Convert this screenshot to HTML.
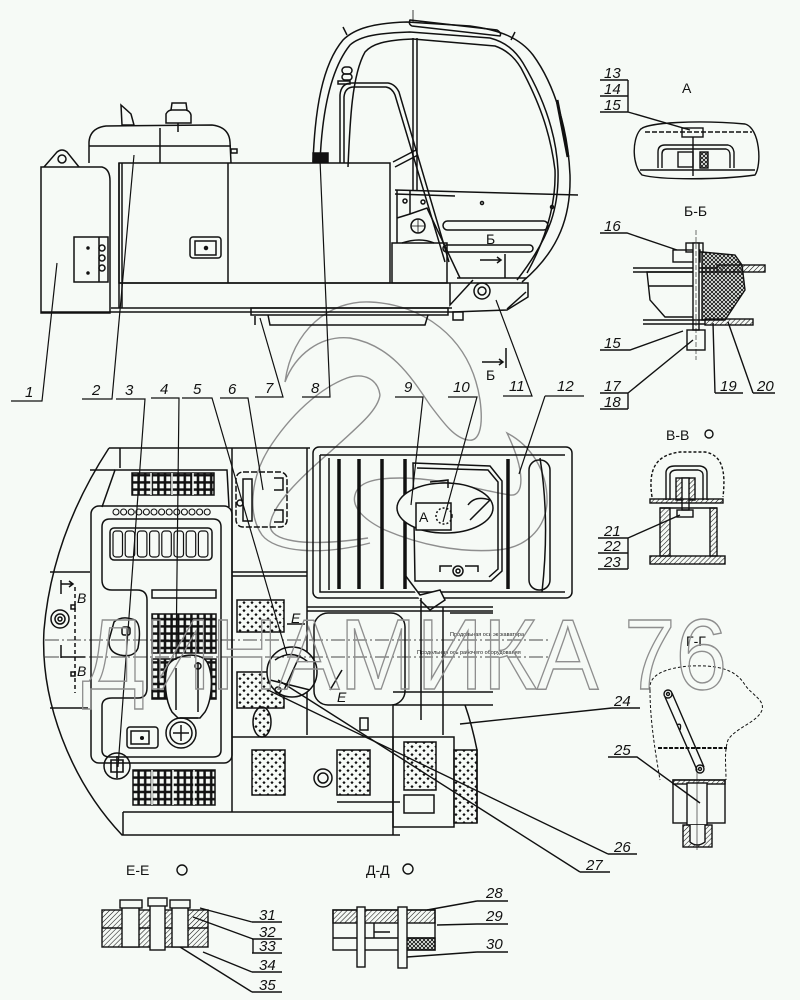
<!DOCTYPE html>
<html><head><meta charset="utf-8">
<style>
html,body{margin:0;padding:0;background:#f6faf6;}
svg{display:block;}
.l{font-family:"Liberation Sans",sans-serif;font-size:15px;font-style:italic;fill:#111;stroke:none;}
.t{font-family:"Liberation Sans",sans-serif;font-size:14px;fill:#111;stroke:none;}
.s{font-family:"Liberation Sans",sans-serif;font-size:5.5px;fill:#222;stroke:none;}
</style></head><body>
<svg width="800" height="1000" viewBox="0 0 800 1000" xmlns="http://www.w3.org/2000/svg">
<defs>
<pattern id="g" width="6.6" height="7.2" patternUnits="userSpaceOnUse"><rect x="0.6" y="0.6" width="5.4" height="6" fill="none" stroke="#111" stroke-width="1.3"/></pattern>
<pattern id="d" width="8" height="8" patternUnits="userSpaceOnUse"><path d="M4,1 L5.6,2.6 L4,4.2 L2.4,2.6Z M0,5 L1.6,6.6 L0,8.2Z M8,5 L6.4,6.6 L8,8.2Z" fill="#111"/></pattern>
<pattern id="h" width="3.5" height="3.5" patternUnits="userSpaceOnUse" patternTransform="rotate(45)"><line x1="0" y1="0" x2="0" y2="3.5" stroke="#111" stroke-width="1.1"/></pattern>
<pattern id="x" width="4" height="4" patternUnits="userSpaceOnUse"><path d="M0,0 L4,4 M4,0 L0,4" stroke="#111" stroke-width="0.9"/></pattern>
</defs>
<rect width="800" height="1000" fill="#f6faf6"/>

<!-- watermark logo -->
<g fill="none" stroke="#8e8e8e" stroke-width="1.4">
<path d="M285,382 C292,330 330,300 370,302 C420,304 470,335 480,400 C484,430 478,442 468,440 C455,438 445,425 430,405 C410,375 390,345 350,338 C320,335 295,355 285,382 Z"/>
<path d="M380,395 C378,380 365,372 347,378 C320,388 290,415 268,450 C250,480 248,515 262,535 C275,552 320,556 370,543"/>
<path d="M380,395 C378,410 360,425 330,452 C300,478 272,505 270,525 C270,540 300,548 368,538"/>
<path d="M507,433 C530,445 548,470 547,503 C545,530 525,548 497,550 C460,553 420,545 385,530 C360,518 352,505 355,495 C358,482 375,478 400,478 C440,478 480,490 510,495 C525,497 525,470 507,433 Z"/>
</g>

<!-- ============ TOP SIDE VIEW ============ -->
<g fill="none" stroke="#111" stroke-width="1.5">
<!-- box 1 -->
<path d="M41,167 L102,167 Q110,169 110,181 L110,313 L41,313 Z"/>
<path d="M44,167 L57,152 Q62,148 67,152 L79,167"/>
<circle cx="62" cy="159" r="4"/>
<line x1="119" y1="163" x2="119" y2="308"/>
<line x1="122" y1="163" x2="122" y2="308"/>
<rect x="74" y="237" width="34" height="45"/>
<line x1="99" y1="237" x2="99" y2="282"/>
<circle cx="102" cy="248" r="3"/><circle cx="102" cy="258" r="3"/><circle cx="102" cy="268" r="3"/>
<circle cx="88" cy="248" r="1" fill="#111"/><circle cx="88" cy="273" r="1" fill="#111"/>
<!-- hood -->
<path d="M89,163 L89,142 Q90,128 106,126 L212,125 Q229,127 230,142 L231,163"/>
<line x1="89" y1="146" x2="231" y2="146"/>
<line x1="160" y1="128" x2="160" y2="163"/>
<path d="M121,105 L131,114 L134,125 L122,125 Z"/>
<path d="M166,123 L166,114 Q168,110 172,110 L186,110 Q190,111 191,115 L191,123 Z"/>
<path d="M171,110 L172,103 L186,103 L187,110"/>
<line x1="178" y1="123" x2="178" y2="132"/>
<rect x="231" y="149" width="6" height="4"/>
<!-- main body -->
<rect x="119" y="163" width="271" height="120"/>
<line x1="228" y1="163" x2="228" y2="283"/>
<rect x="190" y="237" width="31" height="21" rx="3"/>
<rect x="195" y="241" width="21" height="14"/>
<circle cx="206" cy="248" r="1.5" fill="#111"/>
<rect x="313" y="153" width="15" height="9" fill="#111"/>
<!-- platform -->
<path d="M119,283 L528,283 L528,297 L507,310 L452,312"/>
<line x1="111" y1="308" x2="452" y2="308"/>
<line x1="41" y1="312" x2="452" y2="312"/>
<path d="M450,283 L450,305 L473,280"/>
<path d="M507,309 L526,292"/>
<circle cx="482" cy="291" r="8"/><circle cx="482" cy="291" r="4"/>
<rect x="251" y="308" width="197" height="7"/>
<path d="M268,315 L270,325 L425,325 L428,315"/>
<line x1="255" y1="316" x2="255" y2="325"/>
<rect x="453" y="312" width="10" height="8"/>
<!-- cab -->
<path d="M313,162 C315,110 322,65 343,40 C355,28 375,23 407,22 L470,26 C500,30 520,38 533,55 C555,85 568,130 570,175 C571,215 560,250 522,282"/>
<path d="M320,162 C322,115 330,70 350,45 C360,36 378,33 410,32 L490,38 C505,42 515,50 523,63 C542,95 556,130 558,170 C559,205 552,235 517,280"/>
<path d="M348,167 C350,120 352,75 365,52 C372,44 385,40 413,39 L495,46 C507,50 515,58 521,68 C538,100 550,130 555,170 C556,200 548,235 527,273"/>
<path d="M410,20 L497,30 Q502,33 500,36 L412,26 Q408,24 410,20 Z"/>
<line x1="343" y1="27" x2="347" y2="35"/><line x1="515" y1="32" x2="511" y2="40"/>
<line x1="413" y1="38" x2="413" y2="190"/><line x1="417" y1="38" x2="417" y2="190"/>
<line x1="413" y1="10" x2="413" y2="22" stroke-width="0.8"/>
<path d="M557,100 L568,157" stroke-width="3"/>
<rect x="342" y="67" width="10" height="7" rx="3.5"/><rect x="342" y="74" width="10" height="6" rx="3"/>
<rect x="338" y="81" width="12" height="3"/>
<path d="M340,163 L340,95 Q341,83 352,83 L388,83 Q395,84 399,92 L449,262"/>
<path d="M344,163 L344,97 Q345,87 354,87 L386,87 Q392,88 395,95 L445,262"/>
<path d="M393,162 L416,150 M395,167 L418,155"/>
<line x1="395" y1="190" x2="578" y2="195"/>
<line x1="395" y1="194" x2="455" y2="196"/>
<rect x="443" y="221" width="105" height="9" rx="4.5"/>
<rect x="443" y="245" width="90" height="7" rx="3.5"/>
<rect x="392" y="243" width="55" height="40"/>
<path d="M402,243 Q420,237 434,243"/>
<path d="M397,190 L397,243 M397,218 L410,214 L427,208 L460,278"/>
<line x1="410" y1="190" x2="410" y2="214"/>
<circle cx="418" cy="226" r="7"/><path d="M418,219 L418,233 M411,226 L425,226" stroke-width="0.8"/>
<circle cx="405" cy="201" r="2"/><circle cx="423" cy="202" r="2"/><circle cx="482" cy="203" r="1.5"/><circle cx="552" cy="207" r="1.5"/>
<line x1="457" y1="278" x2="527" y2="278"/>
<!-- section Б marks -->
<path d="M480,260 L501,260 M497,257 L501,260 L497,263"/>
<line x1="505" y1="254" x2="505" y2="278"/>
<path d="M482,362 L503,362 M499,359 L503,362 L499,365"/>
<line x1="506" y1="348" x2="506" y2="368"/>
</g>
<text class="t" x="486" y="244">Б</text>
<text class="t" x="486" y="380">Б</text>

<!-- ============ BOTTOM PLAN VIEW ============ -->
<g fill="none" stroke="#111" stroke-width="1.5">
<path d="M109,448 L310,448"/>
<path d="M109,448 C75,500 50,560 44,630 C40,700 70,780 122,835 L400,835"/>
<path d="M90,470 L115,470 M120,448 L120,468"/>
<path d="M102,507 L115,470 L227,470 L229,507"/>
<rect x="132" y="473" width="82" height="22" fill="url(#g)"/>
<line x1="151" y1="473" x2="151" y2="495" stroke="#f6faf6" stroke-width="1.5"/>
<line x1="172" y1="473" x2="172" y2="495" stroke="#f6faf6" stroke-width="1.5"/>
<line x1="193" y1="473" x2="193" y2="495" stroke="#f6faf6" stroke-width="1.5"/>
<!-- engine plate -->
<rect x="91" y="506" width="141" height="257" rx="8"/>
<g stroke-width="1.1">
<circle cx="116" cy="512" r="3"/><circle cx="123.6" cy="512" r="3"/><circle cx="131.2" cy="512" r="3"/><circle cx="138.8" cy="512" r="3"/><circle cx="146.4" cy="512" r="3"/><circle cx="154" cy="512" r="3"/><circle cx="161.6" cy="512" r="3"/><circle cx="169.2" cy="512" r="3"/><circle cx="176.8" cy="512" r="3"/><circle cx="184.4" cy="512" r="3"/><circle cx="192" cy="512" r="3"/><circle cx="199.6" cy="512" r="3"/><circle cx="207.2" cy="512" r="3"/>
</g>
<path d="M110,519 L213,519 Q221,519 221,527 L221,750 Q221,757 213,757 L110,757 Q102,757 102,750 L102,706 Q102,698 112,698 L138,698 Q147,698 147,688 L147,600 Q147,590 137,590 L112,590 Q102,590 102,580 L102,527 Q102,519 110,519 Z"/>
<rect x="110" y="528" width="102" height="32" rx="4"/>
<g stroke-width="1.2">
<rect x="113" y="531" width="9.5" height="26" rx="3"/><rect x="125.2" y="531" width="9.5" height="26" rx="3"/><rect x="137.4" y="531" width="9.5" height="26" rx="3"/><rect x="149.6" y="531" width="9.5" height="26" rx="3"/><rect x="161.8" y="531" width="9.5" height="26" rx="3"/><rect x="174" y="531" width="9.5" height="26" rx="3"/><rect x="186.2" y="531" width="9.5" height="26" rx="3"/><rect x="198.4" y="531" width="9.5" height="26" rx="3"/>
</g>
<rect x="152" y="590" width="64" height="8"/>
<rect x="152" y="614" width="64" height="39" fill="url(#g)"/>
<rect x="152" y="659" width="64" height="40" fill="url(#g)"/>
<path d="M167,668 C170,655 200,650 207,662 C214,675 212,700 205,712 L200,718 L178,718 L172,712 C165,700 164,680 167,668 Z" fill="#f6faf6"/>
<path d="M176,710 L176,668 M198,662 L198,712 M180,718 L198,718"/>
<circle cx="198" cy="666" r="3"/>
<circle cx="181" cy="733" r="15"/><circle cx="181" cy="733" r="11"/>
<path d="M181,725 L181,741 M173,733 L189,733"/>
<rect x="127" y="727" width="31" height="21" rx="3"/>
<rect x="131" y="731" width="18" height="13"/>
<circle cx="142" cy="738" r="1.3" fill="#111"/>
<circle cx="117" cy="766" r="13"/>
<path d="M111,760 L123,760 L123,772 L111,772 Z M117,756 L117,778" stroke-width="1.6"/>
<rect x="133" y="770" width="82" height="35" fill="url(#g)"/>
<line x1="152" y1="770" x2="152" y2="805" stroke="#f6faf6" stroke-width="1.5"/>
<line x1="173" y1="770" x2="173" y2="805" stroke="#f6faf6" stroke-width="1.5"/>
<line x1="194" y1="770" x2="194" y2="805" stroke="#f6faf6" stroke-width="1.5"/>
<path d="M114,622 Q122,615 135,620 Q142,625 138,648 Q134,658 120,655 Q108,652 109,640 Z"/>
<rect x="122" y="627" width="8" height="8" rx="2"/>
<line x1="123" y1="812" x2="393" y2="812"/>
<line x1="123" y1="812" x2="123" y2="835"/>
<!-- left B marks -->
<path d="M50,572 L90,572 M50,708 L88,708"/>
<path d="M61,580 L61,594 M61,584 L73,584 M69,581 L73,584 L69,587"/>
<path d="M61,645 L61,658 M61,657 L85,657"/>
<circle cx="60" cy="619" r="9"/><circle cx="60" cy="619" r="5"/><circle cx="60" cy="619" r="2"/>
<line x1="75" y1="587" x2="75" y2="693" stroke-dasharray="4,3"/>
<rect x="71" y="605" width="4" height="4"/><rect x="71" y="672" width="4" height="4"/>
<!-- middle column -->
<line x1="232" y1="448" x2="232" y2="812"/>
<line x1="307" y1="448" x2="307" y2="735"/>
<rect x="236" y="472" width="51" height="55" rx="7" stroke-dasharray="6,2"/>
<rect x="243" y="479" width="9" height="42"/>
<path d="M274,478 L283,478 L283,490 L274,490 M274,510 L283,510 L283,522 L274,522"/>
<circle cx="240" cy="503" r="3"/>
<line x1="232" y1="572" x2="307" y2="572"/>
<line x1="232" y1="576" x2="307" y2="576"/>
<rect x="237" y="600" width="47" height="32" fill="url(#d)"/>
<rect x="237" y="672" width="47" height="36" fill="url(#d)"/>
<ellipse cx="262" cy="722" rx="9" ry="15" fill="url(#d)"/>
<line x1="232" y1="737" x2="393" y2="737"/>
<!-- swing -->
<circle cx="292" cy="672" r="25" fill="#f6faf6"/>
<path d="M275,660 Q292,648 308,662 M284,690 L300,655 M270,680 L310,690"/>
<circle cx="278" cy="690" r="3"/>
<path d="M287,624 L305,624 M330,690 L342,670"/>
<!-- upper right block -->
<rect x="313" y="447" width="259" height="151" rx="6"/>
<path d="M320,455 L565,455 M320,455 L320,592 L565,592"/>
<line x1="329" y1="458" x2="329" y2="590"/>
<g stroke-width="3.5">
<line x1="339" y1="459" x2="339" y2="589"/><line x1="359" y1="459" x2="359" y2="589"/><line x1="382" y1="459" x2="382" y2="589"/><line x1="405" y1="459" x2="405" y2="589"/><line x1="508" y1="459" x2="508" y2="589"/>
</g>
<path d="M413,463 L490,466 L502,481 L502,571 L491,581 L415,581 Z"/>
<path d="M417,468 L488,470 L498,482 L498,569 L489,577"/>
<ellipse cx="445" cy="508" rx="48" ry="25" fill="#f6faf6"/>
<path d="M430,482 L448,480 L448,488 M468,505 Q475,495 490,500 M470,520 L490,500"/>
<rect x="416" y="503" width="35" height="27" fill="#f6faf6"/>
<circle cx="444" cy="516" r="8" stroke-dasharray="2,2"/>
<rect x="529" y="460" width="21" height="130" rx="10"/>
<path d="M540,458 Q550,520 542,592"/>
<circle cx="458" cy="571" r="5"/><circle cx="458" cy="571" r="2"/>
<path d="M440,572 L440,566 L452,566 M465,566 L478,566 L478,572"/>
<path d="M405,575 L420,595 L440,590 L445,600 L430,610 L420,600" fill="#f6faf6"/>
<!-- below cab -->
<line x1="307" y1="607" x2="493" y2="607"/>
<line x1="307" y1="611" x2="493" y2="611"/>
<rect x="314" y="613" width="91" height="92" rx="14"/>
<line x1="421" y1="598" x2="421" y2="720"/>
<line x1="443" y1="607" x2="443" y2="735"/>
<line x1="450" y1="613" x2="493" y2="613"/>
<line x1="393" y1="692" x2="493" y2="692"/>
<line x1="393" y1="705" x2="493" y2="705"/>
<path d="M465,705 Q472,725 477,750 L477,823"/>
<rect x="393" y="737" width="61" height="90"/>
<rect x="404" y="742" width="32" height="48" fill="url(#d)"/>
<rect x="404" y="795" width="30" height="18"/>
<rect x="454" y="750" width="23" height="73" fill="url(#d)"/>
<line x1="393" y1="705" x2="393" y2="835"/>
<rect x="252" y="750" width="33" height="45" fill="url(#d)"/>
<rect x="337" y="750" width="33" height="45" fill="url(#d)"/>
<circle cx="323" cy="778" r="9"/><circle cx="323" cy="778" r="5"/>
<path d="M337,802 L400,802"/>
<rect x="360" y="718" width="8" height="12"/>
<!-- centerlines -->
<g stroke-width="0.8" stroke-dasharray="14,3,2,3">
<line x1="45" y1="640" x2="548" y2="640"/>
<line x1="45" y1="657" x2="548" y2="657"/>
</g>
</g>
<text class="s" x="450" y="636">Продольная ось экскаватора</text>
<text class="s" x="417" y="654">Продольная ось рабочего оборудования</text>
<text class="t" x="419" y="522">А</text>
<text class="t" x="77" y="603" font-style="italic">В</text>
<text class="t" x="77" y="676" font-style="italic">В</text>
<text class="t" x="291" y="623" font-style="italic">Е</text>
<text class="t" x="337" y="702" font-style="italic">Е</text>

<!-- ============ RIGHT DETAILS ============ -->
<g fill="none" stroke="#111" stroke-width="1.4">
<!-- A -->
<path d="M600,80 L628,80 M600,96 L628,96 M600,112 L628,112 M628,80 L628,112 L690,130"/>
<path d="M640,130 C645,122 700,120 745,124 C760,128 762,165 755,175 C720,180 660,180 642,175 C632,165 632,140 640,130 Z"/>
<line x1="645" y1="132" x2="752" y2="132" stroke-dasharray="5,2"/>
<line x1="640" y1="170" x2="755" y2="170"/>
<path d="M658,168 L658,152 Q658,145 665,145 L728,145 Q733,146 734,152 L734,168"/>
<path d="M662,168 L662,154 Q662,149 667,149 L726,149 Q730,150 730,155 L730,168"/>
<rect x="682" y="128" width="21" height="9"/>
<line x1="693" y1="137" x2="693" y2="176"/>
<rect x="678" y="152" width="15" height="15"/>
<rect x="700" y="152" width="8" height="16" fill="url(#x)"/>
<!-- Б-Б -->
<path d="M600,233 L627,233 L677,250"/>
<line x1="633" y1="268" x2="717" y2="268"/><line x1="633" y1="272" x2="717" y2="272"/>
<rect x="717" y="265" width="48" height="7" fill="url(#h)"/>
<path d="M647,272 L695,272 L695,317 L665,317 L650,300 Z"/>
<line x1="648" y1="286" x2="695" y2="286"/>
<rect x="673" y="250" width="27" height="12"/>
<rect x="686" y="243" width="17" height="9"/>
<rect x="693" y="243" width="6" height="87" fill="#f6faf6"/>
<path d="M702,252 L735,255 L742,265 L745,290 L735,305 L725,320 L702,320 Z" fill="url(#x)"/>
<line x1="643" y1="320" x2="705" y2="320"/><line x1="643" y1="324" x2="705" y2="324"/>
<rect x="705" y="319" width="48" height="6" fill="url(#h)"/>
<rect x="687" y="330" width="18" height="20"/>
<line x1="696" y1="230" x2="696" y2="360" stroke-width="0.6" stroke-dasharray="5,2"/>
<path d="M600,350 L630,350 L683,331"/>
<path d="M600,393 L628,393 M600,409 L628,409 M628,393 L628,409 M628,393 L693,340"/>
<path d="M715,393 L743,393 M715,393 L713,323"/>
<path d="M753,393 L775,393 M753,393 L728,322"/>
<!-- В-В -->
<circle cx="709" cy="434" r="4"/>
<path d="M652,497 C648,470 655,455 680,452 L705,452 C722,455 726,470 723,497" stroke-dasharray="3,2"/>
<path d="M666,500 L666,472 Q667,466 675,466 L700,466 Q707,467 707,473 L707,500"/>
<path d="M670,500 L670,474 Q671,470 677,470 L698,470 Q703,471 703,475 L703,500"/>
<rect x="676" y="478" width="19" height="22" fill="url(#h)"/>
<rect x="682" y="478" width="7" height="32" fill="#f6faf6"/>
<rect x="650" y="499" width="73" height="4" fill="url(#h)"/>
<rect x="660" y="508" width="10" height="48" fill="url(#h)"/>
<rect x="710" y="508" width="7" height="48" fill="url(#h)"/>
<line x1="660" y1="508" x2="717" y2="508"/>
<rect x="677" y="510" width="16" height="7"/>
<rect x="650" y="556" width="75" height="8" fill="url(#h)"/>
<path d="M598,538 L628,538 M598,553 L628,553 M598,569 L628,569 M628,538 L628,569 M628,538 L680,515"/>
<!-- Г-Г -->
<path d="M650,690 C648,675 665,668 690,666 C715,665 735,668 745,685 C752,695 765,700 762,710 C758,722 735,728 728,740 C724,752 726,765 726,780" stroke-dasharray="3,2" stroke-width="1"/>
<path d="M650,690 C650,720 655,750 660,780" stroke-dasharray="3,2" stroke-width="1"/>
<line x1="658" y1="748" x2="727" y2="748" stroke-dasharray="4,1.5" stroke-width="2"/>
<path d="M665,697 L697,770 M672,693 L704,767"/>
<circle cx="668" cy="694" r="4"/><circle cx="668" cy="694" r="1.5"/>
<circle cx="700" cy="769" r="4"/><circle cx="700" cy="769" r="1.5"/>
<path d="M677,725 Q682,722 680,730"/>
<rect x="673" y="780" width="52" height="43"/>
<rect x="673" y="780" width="52" height="4" fill="url(#h)"/>
<rect x="687" y="783" width="20" height="42" fill="#f6faf6"/>
<rect x="683" y="825" width="29" height="22" fill="url(#h)"/>
<path d="M690,825 L690,842 Q697,848 705,842 L705,825" fill="#f6faf6"/>
<line x1="697" y1="770" x2="697" y2="850" stroke-width="0.6"/>
<path d="M608,757 L637,757 L700,803"/>
<path d="M612,708 L640,708 M612,708 L460,724"/>
<path d="M608,854 L637,854 M608,854 L268,690"/>
<path d="M580,872 L610,872 M580,872 L278,680"/>
<!-- E-E -->
<circle cx="182" cy="870" r="5"/>
<rect x="102" y="910" width="106" height="37" fill="url(#h)"/>
<line x1="102" y1="928" x2="208" y2="928"/>
<rect x="122" y="906" width="17" height="41" fill="#f6faf6"/>
<rect x="120" y="900" width="22" height="8" fill="#f6faf6"/>
<rect x="150" y="905" width="15" height="45" fill="#f6faf6"/>
<rect x="148" y="898" width="19" height="8" fill="#f6faf6"/>
<rect x="172" y="906" width="16" height="41" fill="#f6faf6"/>
<rect x="170" y="900" width="20" height="8" fill="#f6faf6"/>
<path d="M252,922 L282,922 M252,939 L282,939 M252,953 L282,953 M252,972 L282,972 M252,992 L282,992 M253,939 L253,953"/>
<path d="M252,922 L200,908 M253,939 L193,917 M252,972 L203,952 M252,992 L180,947"/>
<!-- Д-Д -->
<circle cx="408" cy="869" r="5"/>
<rect x="333" y="910" width="102" height="40"/>
<rect x="333" y="910" width="102" height="13" fill="url(#h)"/>
<rect x="400" y="938" width="35" height="12" fill="url(#x)"/>
<line x1="333" y1="938" x2="435" y2="938"/>
<rect x="357" y="907" width="8" height="60" fill="#f6faf6"/>
<rect x="398" y="907" width="9" height="61" fill="#f6faf6"/>
<path d="M374,923 L374,938 M374,932 L390,932"/>
<path d="M477,901 L508,901 M477,901 L427,910 M477,924 L508,924 M477,924 L437,925 M477,952 L508,952 M477,952 L407,957"/>
</g>

<!-- leaders of top numbers -->
<g fill="none" stroke="#111" stroke-width="1.2">
<path d="M11,401 L42,401 L57,263"/>
<path d="M82,399 L112,399 L134,155"/>
<path d="M116,399 L145,399 L118,767"/>
<path d="M151,398 L179,398 L176,660"/>
<path d="M182,398 L212,398 L287,655"/>
<path d="M220,398 L248,398 L263,490"/>
<path d="M255,397 L283,397 L260,318"/>
<path d="M302,397 L330,397 L320,160"/>
<path d="M395,397 L423,397 L411,505"/>
<path d="M448,397 L477,397 L443,522"/>
<path d="M503,396 L532,396 L496,300"/>
<path d="M545,396 L584,396 M545,396 L519,474"/>
</g>
<text class="l" x="25" y="397">1</text>
<text class="l" x="92" y="395">2</text>
<text class="l" x="125" y="395">3</text>
<text class="l" x="160" y="394">4</text>
<text class="l" x="193" y="394">5</text>
<text class="l" x="228" y="394">6</text>
<text class="l" x="265" y="393">7</text>
<text class="l" x="311" y="393">8</text>
<text class="l" x="404" y="392">9</text>
<text class="l" x="453" y="392">10</text>
<text class="l" x="509" y="391">11</text>
<text class="l" x="557" y="391">12</text>

<text class="l" x="604" y="78">13</text>
<text class="l" x="604" y="94">14</text>
<text class="l" x="604" y="110">15</text>
<text class="t" x="682" y="93">А</text>
<text class="t" x="684" y="216">Б-Б</text>
<text class="l" x="604" y="231">16</text>
<text class="l" x="604" y="348">15</text>
<text class="l" x="604" y="391">17</text>
<text class="l" x="604" y="407">18</text>
<text class="l" x="720" y="391">19</text>
<text class="l" x="757" y="391">20</text>
<text class="t" x="666" y="440">В-В</text>
<text class="l" x="604" y="536">21</text>
<text class="l" x="604" y="551">22</text>
<text class="l" x="604" y="567">23</text>
<text class="t" x="686" y="646">Г-Г</text>
<text class="l" x="614" y="706">24</text>
<text class="l" x="614" y="755">25</text>
<text class="l" x="614" y="852">26</text>
<text class="l" x="586" y="870">27</text>
<text class="t" x="126" y="875">Е-Е</text>
<text class="t" x="366" y="875">Д-Д</text>
<text class="l" x="486" y="898">28</text>
<text class="l" x="486" y="921">29</text>
<text class="l" x="486" y="949">30</text>
<text class="l" x="259" y="920">31</text>
<text class="l" x="259" y="937">32</text>
<text class="l" x="259" y="951">33</text>
<text class="l" x="259" y="970">34</text>
<text class="l" x="259" y="990">35</text>

<!-- watermark text -->
<text x="82" y="689" font-family="Liberation Sans, sans-serif" font-size="100" fill="none" stroke="#8e8e8e" stroke-width="1.4" textLength="645" lengthAdjust="spacingAndGlyphs">ДИНАМИКА 76</text>
</svg>
</body></html>
